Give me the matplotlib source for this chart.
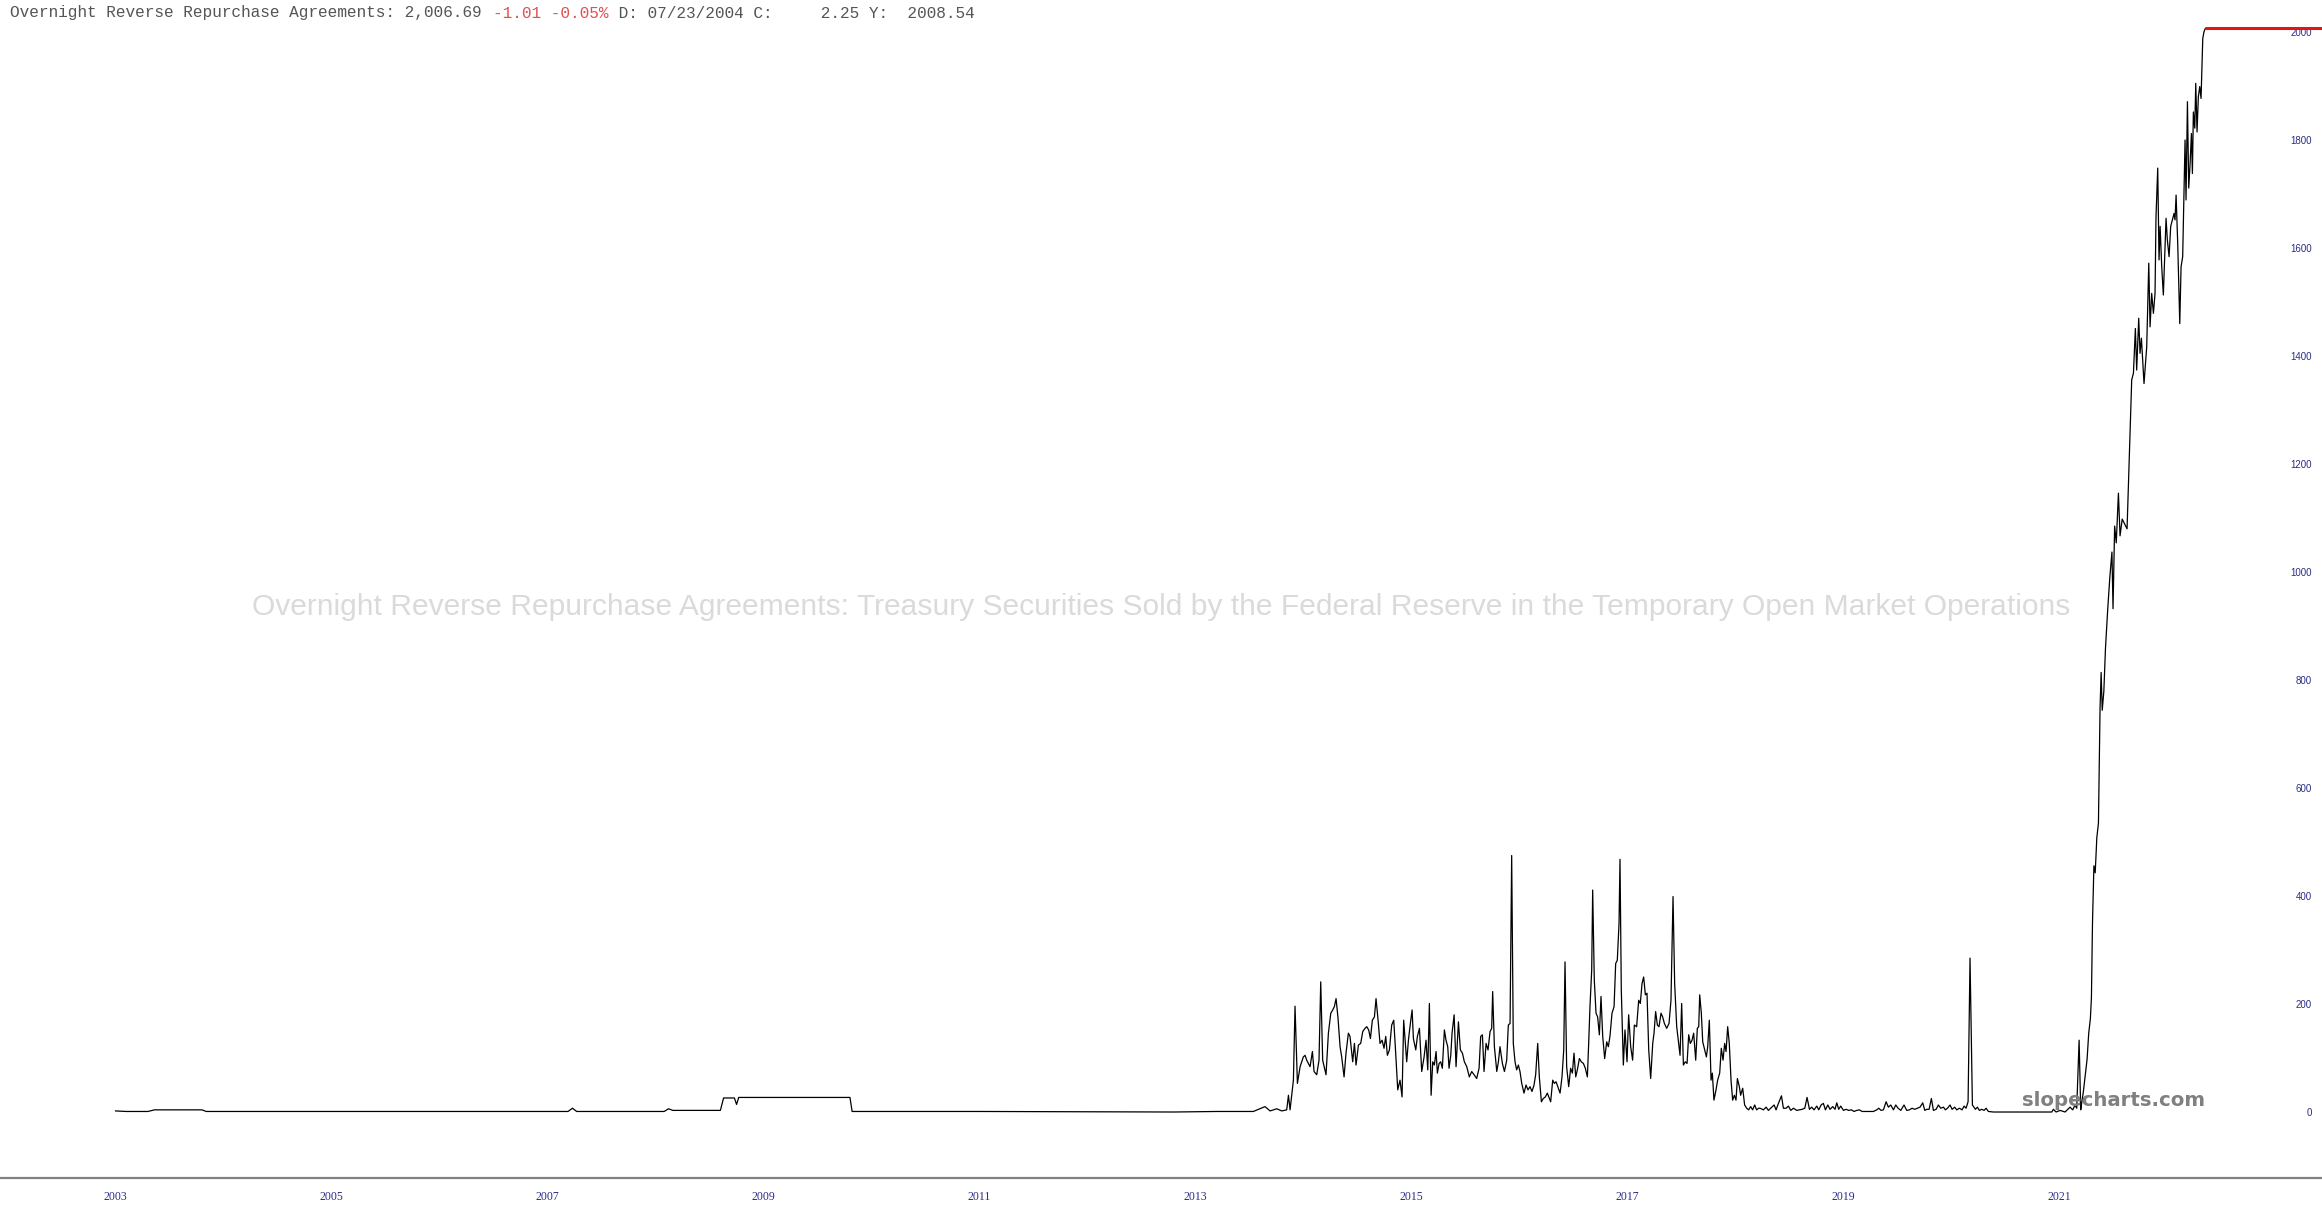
import numpy as np
import matplotlib
matplotlib.use("Agg")
import matplotlib.pyplot as plt

# Overnight reverse repo volume (billions); dates as decimal years
dates_early = [2003.00, 2003.10, 2003.30, 2003.36, 2003.80, 2003.84, 2005.00, 2007.00, 2007.19, 2007.23,
               2007.27, 2008.08, 2008.12, 2008.16, 2008.60, 2008.63, 2008.73, 2008.75, 2008.77, 2009.80,
               2009.82, 2011.00, 2012.60, 2012.80, 2013.20, 2013.40]
values_early = [2, 1, 1, 4, 4, 1, 1, 1, 1, 7,
                1, 1, 6, 3, 3, 26, 26, 14, 27, 27,
                1, 1, 0, 0, 1, 1]

dates_2013 = [2013.535, 2013.643, 2013.690, 2013.752, 2013.798, 2013.844, 2013.860, 2013.875, 2013.906, 2013.921,
              2013.943, 2013.968, 2013.983, 2013.998, 2014.014, 2014.029, 2014.045, 2014.060, 2014.082, 2014.097,
              2014.122, 2014.143, 2014.159, 2014.177, 2014.208, 2014.230, 2014.252, 2014.270, 2014.285, 2014.301,
              2014.319, 2014.338, 2014.353, 2014.375, 2014.393, 2014.415, 2014.430, 2014.455, 2014.471, 2014.486,
              2014.508, 2014.529, 2014.548, 2014.569, 2014.585, 2014.603, 2014.619, 2014.637, 2014.656, 2014.671,
              2014.690, 2014.708, 2014.727, 2014.745, 2014.761, 2014.776, 2014.795, 2014.816, 2014.835, 2014.853,
              2014.872, 2014.893, 2014.912, 2014.927, 2014.955, 2014.971, 2014.989, 2015.005, 2015.017, 2015.039,
              2015.054, 2015.073, 2015.094, 2015.116, 2015.134, 2015.150, 2015.165, 2015.181, 2015.196, 2015.211,
              2015.227, 2015.239, 2015.255, 2015.270, 2015.285, 2015.304, 2015.319, 2015.335, 2015.347, 2015.363,
              2015.375, 2015.394, 2015.412, 2015.434, 2015.452, 2015.471, 2015.489, 2015.511, 2015.535, 2015.557,
              2015.579, 2015.603, 2015.625, 2015.640, 2015.656, 2015.671, 2015.690, 2015.708, 2015.727, 2015.742,
              2015.751, 2015.767, 2015.789, 2015.804, 2015.819, 2015.841, 2015.860, 2015.881]
values_2013 = [1, 10, 2, 6, 2, 4, 31, 4, 59, 196,
               53, 84, 93, 102, 105, 96, 90, 84, 112, 75,
               69, 96, 241, 96, 69, 146, 183, 189, 195, 210,
               174, 121, 102, 65, 109, 146, 140, 93, 127, 87,
               124, 127, 149, 155, 158, 152, 136, 170, 176, 210,
               170, 127, 133, 118, 140, 105, 115, 161, 170, 109,
               41, 59, 28, 170, 93, 133, 164, 189, 136, 115,
               140, 155, 75, 102, 133, 78, 201, 31, 93, 87,
               112, 72, 90, 93, 81, 152, 133, 121, 81, 105,
               146, 180, 84, 167, 115, 109, 93, 84, 65, 75,
               69, 62, 81, 140, 143, 75, 127, 115, 149, 155,
               223, 121, 75, 93, 121, 90, 75, 96]

dates_2016 = [2015.896, 2015.912, 2015.927, 2015.942, 2015.958, 2015.973, 2015.989, 2016.004, 2016.020, 2016.041,
              2016.060, 2016.078, 2016.097, 2016.115, 2016.134, 2016.149, 2016.168, 2016.183, 2016.202, 2016.220,
              2016.239, 2016.257, 2016.276, 2016.288, 2016.307, 2016.322, 2016.338, 2016.359, 2016.375, 2016.393,
              2016.409, 2016.421, 2016.436, 2016.455, 2016.473, 2016.489, 2016.504, 2016.520, 2016.535, 2016.554,
              2016.572, 2016.591, 2016.609, 2016.628, 2016.640, 2016.652, 2016.668, 2016.677, 2016.692, 2016.708,
              2016.723, 2016.739, 2016.754, 2016.770, 2016.788, 2016.807, 2016.822, 2016.837, 2016.856, 2016.875,
              2016.890, 2016.905, 2016.921, 2016.930, 2016.942, 2016.961, 2016.976, 2016.995, 2017.010, 2017.029,
              2017.047, 2017.063, 2017.084, 2017.103, 2017.118, 2017.134, 2017.149, 2017.165, 2017.180, 2017.196,
              2017.214, 2017.233, 2017.245, 2017.260, 2017.276, 2017.291, 2017.310, 2017.325, 2017.341, 2017.362,
              2017.384, 2017.402, 2017.421, 2017.436, 2017.455, 2017.470, 2017.486, 2017.501, 2017.517, 2017.535,
              2017.551, 2017.566, 2017.581, 2017.597, 2017.612, 2017.631, 2017.646, 2017.659, 2017.668, 2017.683,
              2017.696, 2017.711, 2017.730, 2017.742, 2017.757, 2017.773, 2017.785, 2017.800, 2017.819, 2017.834,
              2017.853, 2017.868, 2017.884, 2017.899, 2017.912, 2017.927, 2017.942, 2017.958, 2017.973, 2017.989,
              2018.004, 2018.017, 2018.035, 2018.047, 2018.066, 2018.084, 2018.103, 2018.121, 2018.140, 2018.158,
              2018.177, 2018.195, 2018.214]
values_2016 = [161, 164, 475, 127, 93, 78, 87, 75, 53, 35,
               50, 41, 47, 38, 50, 69, 127, 65, 19, 25,
               28, 35, 25, 19, 59, 53, 56, 44, 35, 65,
               115, 278, 84, 47, 81, 72, 109, 65, 78, 99,
               93, 90, 81, 65, 127, 195, 263, 411, 244, 183,
               176, 143, 214, 140, 99, 130, 121, 140, 183, 195,
               275, 281, 349, 468, 226, 87, 152, 93, 180, 121,
               96, 161, 158, 207, 201, 238, 250, 217, 220, 115,
               62, 127, 146, 186, 161, 158, 183, 176, 164, 155,
               164, 207, 399, 238, 158, 133, 105, 201, 87, 93,
               90, 143, 127, 133, 146, 96, 155, 158, 217, 183,
               130, 118, 102, 121, 170, 59, 72, 22, 41, 59,
               72, 118, 96, 127, 112, 158, 127, 59, 22, 31,
               22, 62, 47, 31, 44, 13, 7, 4, 10, 4,
               13, 4, 7]

dates_2018 = [2018.227, 2018.258, 2018.283, 2018.304, 2018.335, 2018.357, 2018.375, 2018.397, 2018.425, 2018.443,
              2018.468, 2018.489, 2018.511, 2018.536, 2018.567, 2018.591, 2018.616, 2018.641, 2018.662, 2018.684,
              2018.705, 2018.727, 2018.752, 2018.770, 2018.792, 2018.813, 2018.832, 2018.854, 2018.875, 2018.900,
              2018.921, 2018.937, 2018.955, 2018.974, 2018.999, 2019.023, 2019.048, 2019.073, 2019.097, 2019.122,
              2019.147, 2019.171, 2019.276, 2019.307, 2019.326, 2019.347, 2019.369, 2019.394, 2019.415, 2019.437,
              2019.462, 2019.483, 2019.505, 2019.530, 2019.560, 2019.585, 2019.610, 2019.634, 2019.659, 2019.684,
              2019.708, 2019.733, 2019.752, 2019.770, 2019.792, 2019.813, 2019.832, 2019.857, 2019.878, 2019.900,
              2019.925, 2019.943, 2019.962, 2019.986, 2020.005, 2020.029, 2020.048, 2020.073, 2020.097, 2020.116,
              2020.134, 2020.153, 2020.171, 2020.193, 2020.221, 2020.239, 2020.258, 2020.279, 2020.301, 2020.320,
              2020.341, 2020.387, 2020.928, 2020.943, 2020.968, 2021.005, 2021.051, 2021.097, 2021.122, 2021.144,
              2021.159, 2021.181, 2021.196]
values_2018 = [7, 4, 9, 3, 9, 13, 4, 16, 30, 7,
               7, 11, 3, 7, 3, 4, 5, 7, 27, 5,
               9, 4, 11, 4, 13, 16, 4, 13, 5, 10,
               5, 17, 5, 11, 3, 5, 3, 4, 1, 3,
               4, 1, 1, 4, 7, 3, 4, 19, 9, 13,
               4, 13, 7, 3, 13, 3, 4, 7, 5, 7,
               9, 17, 3, 5, 5, 25, 3, 5, 13, 7,
               9, 4, 7, 13, 5, 9, 4, 7, 4, 11,
               7, 19, 285, 13, 5, 9, 3, 5, 3, 7,
               1, 0, 0, 5, 0, 3, 0, 9, 4, 13,
               7, 133, 4]

dates_2021 = [2021.200, 2021.220, 2021.255, 2021.270, 2021.285, 2021.295, 2021.305, 2021.318, 2021.330, 2021.345,
              2021.360, 2021.375, 2021.385, 2021.395, 2021.410, 2021.425, 2021.445, 2021.465, 2021.485, 2021.495,
              2021.510, 2021.525, 2021.545, 2021.560, 2021.580, 2021.625, 2021.668, 2021.684, 2021.702, 2021.714,
              2021.733, 2021.745, 2021.758, 2021.782, 2021.807, 2021.826, 2021.838, 2021.853, 2021.869, 2021.884,
              2021.893, 2021.909, 2021.921, 2021.931, 2021.946, 2021.961, 2021.986, 2021.998, 2022.014, 2022.029,
              2022.048, 2022.060, 2022.069, 2022.079, 2022.094, 2022.113, 2022.125, 2022.140, 2022.153, 2022.162,
              2022.171, 2022.184, 2022.196, 2022.208, 2022.221, 2022.230, 2022.239, 2022.252, 2022.261, 2022.273,
              2022.285, 2022.298, 2022.310, 2022.319, 2022.326, 2022.338, 2022.350]
values_2021 = [10, 37, 98, 146, 172, 211, 351, 456, 443, 508,
               535, 749, 814, 744, 779, 858, 928, 989, 1037, 932,
               1085, 1054, 1146, 1067, 1098, 1080, 1356, 1368, 1451, 1374,
               1470, 1405, 1433, 1349, 1417, 1572, 1454, 1516, 1479, 1516,
               1658, 1748, 1578, 1640, 1565, 1513, 1655, 1615, 1584, 1640,
               1655, 1664, 1652, 1698, 1609, 1460, 1565, 1584, 1717, 1800,
               1689, 1871, 1711, 1754, 1812, 1738, 1852, 1822, 1905, 1815,
               1880, 1899, 1877, 1942, 1988, 2001, 2006.69]

dates = dates_early + dates_2013 + dates_2016 + dates_2018 + dates_2021
values = values_early + values_2013 + values_2016 + values_2018 + values_2021

x_ticks = [2003, 2005, 2007, 2009, 2011, 2013, 2015, 2017, 2019, 2021]
y_ticks = [0, 200, 400, 600, 800, 1000, 1200, 1400, 1600, 1800, 2000]

title = ("Overnight Reverse Repurchase Agreements: Treasury Securities Sold by the Federal Reserve "
         "in the Temporary Open Market Operations")
header_name = "Overnight Reverse Repurchase Agreements: 2,006.69 "
header_change = "-1.01 -0.05%"
header_rest = " D: 07/23/2004 C:     2.25 Y:  2008.54"

navy = "#2b2b88"

fig = plt.figure(figsize=(23.22, 12.18), dpi=100)
ax = fig.add_axes([0, 40 / 1218, 1, 1178 / 1218])
ax.set_xlim(2001.93, 2023.43)
ax.set_ylim(-122.2, 2059.3)

for side in ["top", "left", "right"]:
    ax.spines[side].set_visible(False)
ax.spines["bottom"].set_color("#808080")
ax.spines["bottom"].set_linewidth(1.6)

# faint title behind the data
fig.text(0.5, 1 - 607 / 1218, title, ha="center", va="center", fontsize=21.6,
         color="#dadada", family="Liberation Sans", zorder=0)

ax.plot(dates, values, color="black", lw=0.9, zorder=3)
ax.hlines(values[-1], dates[-1], 2023.43, color="#e81212", lw=2.2, zorder=4)

ax.set_xticks(x_ticks)
ax.set_xticklabels([str(y) for y in x_ticks], family="Liberation Serif")
ax.tick_params(axis="x", length=0, pad=9.5, labelsize=8.5, labelcolor=navy)

ax.yaxis.tick_right()
ax.set_yticks(y_ticks)
ax.set_yticklabels([str(v) for v in y_ticks], ha="right", family="Liberation Sans")
ax.tick_params(axis="y", length=0, pad=-7.2, labelsize=7, labelcolor=navy)

# header line in monospace, change part in red
hdr_size = 11.6
cw = hdr_size * 100 / 72 * 0.6
hy = 1 - 13 / 1218
fig.text(10 / 2322, hy, header_name, ha="left", va="center", fontsize=hdr_size,
         family="Liberation Mono", color="#555555")
fig.text((10 + len(header_name) * cw) / 2322, hy, header_change, ha="left", va="center",
         fontsize=hdr_size, family="Liberation Mono", color="#e05050")
fig.text((10 + (len(header_name) + len(header_change)) * cw) / 2322, hy, header_rest, ha="left",
         va="center", fontsize=hdr_size, family="Liberation Mono", color="#555555")

fig.text(2205 / 2322, 1 - 1100 / 1218, "slopecharts.com", ha="right", va="center", fontsize=14.2,
         fontweight="bold", family="DejaVu Sans", color="#808080", zorder=5)

fig.savefig("out.png", dpi=100)
